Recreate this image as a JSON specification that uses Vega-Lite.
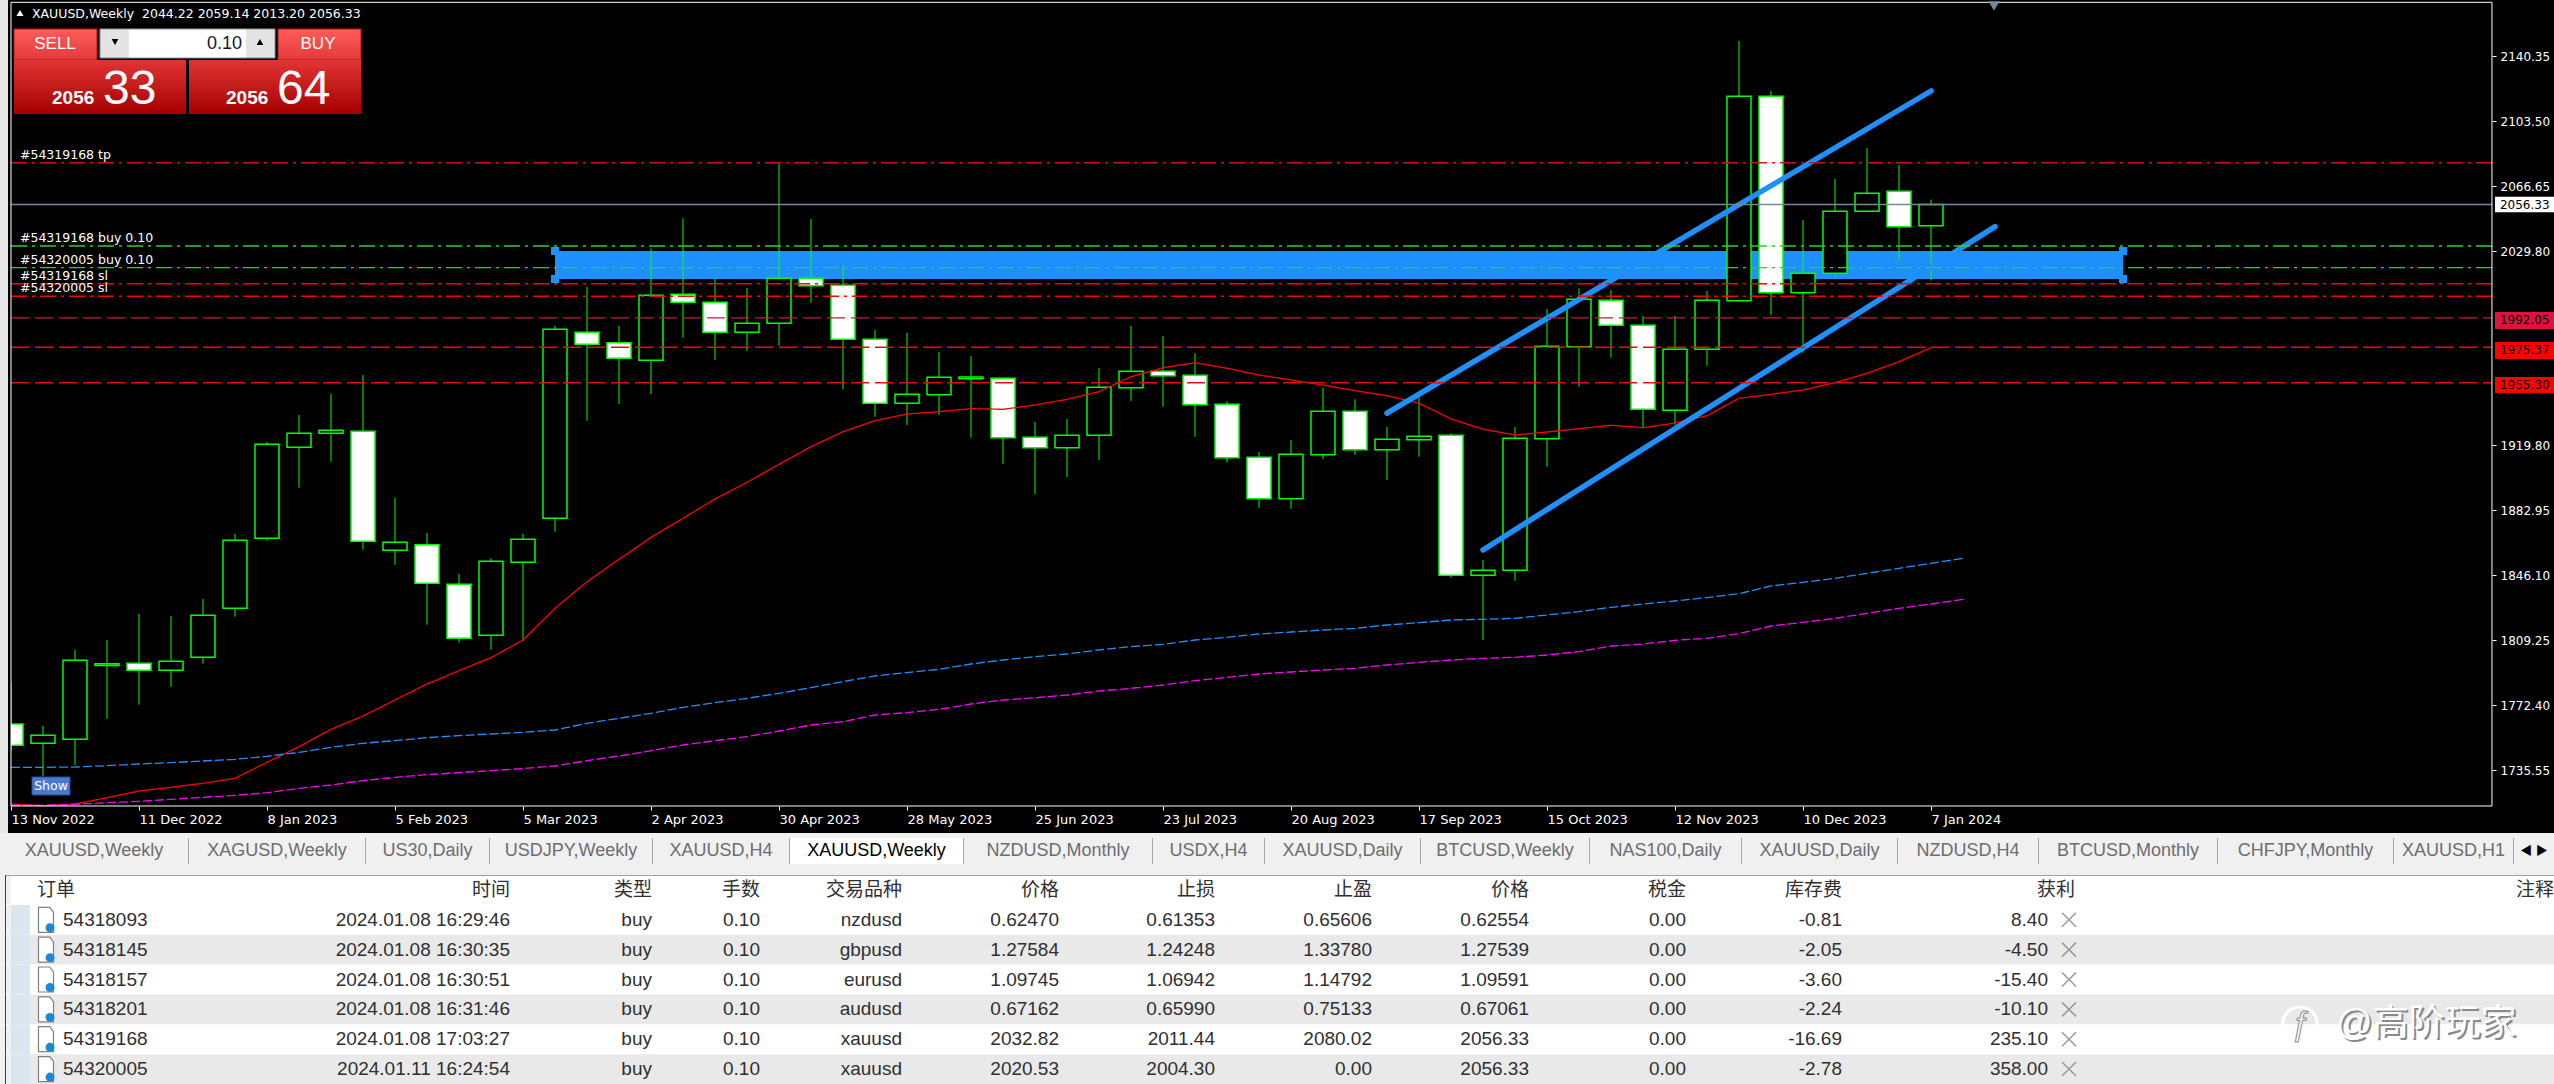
{
"$schema":"https://vega.github.io/schema/vega-lite/v6.json",
"padding":{"left":0,"right":0,"top":0,"bottom":0},"spacing":0,"background":"#a8a8a8",
"config":{"padding":{"left":0,"right":0,"top":0,"bottom":0},"view":{"stroke":null},"legend":{"disable":true},"axis":{"title":null,"grid":false},"text":{"font":"Liberation Sans, Noto Sans CJK SC"}},
"datasets":{
"candles":[
{"date":"2022-11-13","week":0,"open":1761.81,"high":1785.79,"low":1746.68,"close":1749.74,"dir":"down"},
{"date":"2022-11-20","week":1,"open":1750.85,"high":1760.68,"low":1732.33,"close":1755.39,"dir":"up"},
{"date":"2022-11-27","week":2,"open":1753.12,"high":1803.77,"low":1738.57,"close":1797.91,"dir":"up"},
{"date":"2022-12-04","week":3,"open":1795.0,"high":1809.43,"low":1764.84,"close":1796.0,"dir":"up"},
{"date":"2022-12-11","week":4,"open":1796.21,"high":1824.18,"low":1772.77,"close":1792.24,"dir":"down"},
{"date":"2022-12-18","week":5,"open":1792.24,"high":1823.04,"low":1782.98,"close":1797.34,"dir":"up"},
{"date":"2022-12-25","week":6,"open":1799.61,"high":1832.68,"low":1796.01,"close":1823.42,"dir":"up"},
{"date":"2023-01-01","week":7,"open":1827.39,"high":1869.53,"low":1822.66,"close":1865.94,"dir":"up"},
{"date":"2023-01-08","week":8,"open":1867.08,"high":1921.69,"low":1865.75,"close":1920.36,"dir":"up"},
{"date":"2023-01-15","week":9,"open":1918.66,"high":1936.99,"low":1895.8,"close":1926.6,"dir":"up"},
{"date":"2023-01-22","week":10,"open":1926.6,"high":1948.9,"low":1910.54,"close":1928.3,"dir":"up"},
{"date":"2023-01-29","week":11,"open":1927.73,"high":1959.67,"low":1860.64,"close":1865.37,"dir":"down"},
{"date":"2023-02-05","week":12,"open":1860.28,"high":1889.94,"low":1852.14,"close":1864.8,"dir":"up"},
{"date":"2023-02-12","week":13,"open":1863.48,"high":1870.1,"low":1818.13,"close":1841.56,"dir":"down"},
{"date":"2023-02-19","week":14,"open":1840.99,"high":1846.85,"low":1807.92,"close":1810.38,"dir":"down"},
{"date":"2023-02-26","week":15,"open":1812.08,"high":1855.73,"low":1803.95,"close":1854.03,"dir":"up"},
{"date":"2023-03-05","week":16,"open":1853.47,"high":1869.53,"low":1808.68,"close":1866.51,"dir":"up"},
{"date":"2023-03-12","week":17,"open":1878.43,"high":1987.45,"low":1870.83,"close":1985.58,"dir":"up"},
{"date":"2023-03-19","week":18,"open":1983.88,"high":2009.73,"low":1933.76,"close":1977.08,"dir":"down"},
{"date":"2023-03-26","week":19,"open":1977.98,"high":1987.45,"low":1943.23,"close":1969.14,"dir":"down"},
{"date":"2023-04-02","week":20,"open":1968.0,"high":2031.5,"low":1948.9,"close":2004.86,"dir":"up"},
{"date":"2023-04-09","week":21,"open":2005.42,"high":2048.51,"low":1980.82,"close":2000.89,"dir":"down"},
{"date":"2023-04-16","week":22,"open":2000.89,"high":2014.49,"low":1968.18,"close":1983.88,"dir":"down"},
{"date":"2023-04-23","week":23,"open":1983.88,"high":2008.99,"low":1973.45,"close":1988.98,"dir":"up"},
{"date":"2023-04-30","week":24,"open":1988.98,"high":2079.69,"low":1976.28,"close":2014.49,"dir":"up"},
{"date":"2023-05-07","week":25,"open":2014.49,"high":2048.11,"low":2000.66,"close":2010.3,"dir":"down"},
{"date":"2023-05-14","week":26,"open":2010.52,"high":2022.03,"low":1951.57,"close":1979.91,"dir":"down"},
{"date":"2023-05-21","week":27,"open":1979.91,"high":1985.18,"low":1936.03,"close":1943.63,"dir":"down"},
{"date":"2023-05-28","week":28,"open":1943.63,"high":1983.65,"low":1931.32,"close":1948.73,"dir":"up"},
{"date":"2023-06-04","week":29,"open":1948.5,"high":1972.71,"low":1936.99,"close":1958.37,"dir":"up"},
{"date":"2023-06-11","week":30,"open":1957.57,"high":1970.44,"low":1924.12,"close":1958.54,"dir":"up"},
{"date":"2023-06-18","week":31,"open":1957.8,"high":1958.54,"low":1909.38,"close":1924.12,"dir":"down"},
{"date":"2023-06-25","week":32,"open":1924.35,"high":1933.03,"low":1892.21,"close":1918.45,"dir":"down"},
{"date":"2023-07-02","week":33,"open":1918.45,"high":1934.73,"low":1901.84,"close":1925.48,"dir":"up"},
{"date":"2023-07-09","week":34,"open":1925.48,"high":1963.47,"low":1911.48,"close":1952.7,"dir":"up"},
{"date":"2023-07-16","week":35,"open":1952.47,"high":1987.45,"low":1944.93,"close":1961.77,"dir":"up"},
{"date":"2023-07-23","week":36,"open":1961.77,"high":1981.78,"low":1941.7,"close":1959.28,"dir":"down"},
{"date":"2023-07-30","week":37,"open":1959.5,"high":1971.97,"low":1924.69,"close":1942.83,"dir":"down"},
{"date":"2023-08-06","week":38,"open":1943.06,"high":1944.76,"low":1909.95,"close":1912.79,"dir":"down"},
{"date":"2023-08-13","week":39,"open":1913.01,"high":1916.02,"low":1884.44,"close":1889.54,"dir":"down"},
{"date":"2023-08-20","week":40,"open":1889.54,"high":1922.82,"low":1883.87,"close":1914.71,"dir":"up"},
{"date":"2023-08-27","week":41,"open":1914.49,"high":1952.3,"low":1912.05,"close":1939.09,"dir":"up"},
{"date":"2023-09-03","week":42,"open":1939.09,"high":1945.89,"low":1914.32,"close":1917.32,"dir":"down"},
{"date":"2023-09-10","week":43,"open":1917.32,"high":1930.19,"low":1900.14,"close":1923.22,"dir":"up"},
{"date":"2023-09-17","week":44,"open":1922.99,"high":1947.2,"low":1913.35,"close":1924.92,"dir":"up"},
{"date":"2023-09-24","week":45,"open":1925.48,"high":1926.62,"low":1844.75,"close":1846.11,"dir":"down"},
{"date":"2023-10-01","week":46,"open":1846.11,"high":1854.79,"low":1809.43,"close":1848.95,"dir":"up"},
{"date":"2023-10-08","week":47,"open":1848.95,"high":1930.19,"low":1843.05,"close":1923.78,"dir":"up"},
{"date":"2023-10-15","week":48,"open":1923.56,"high":1997.09,"low":1907.68,"close":1975.94,"dir":"up"},
{"date":"2023-10-22","week":49,"open":1975.72,"high":2008.82,"low":1953.04,"close":2002.59,"dir":"up"},
{"date":"2023-10-29","week":50,"open":2002.02,"high":2007.86,"low":1969.48,"close":1987.85,"dir":"down"},
{"date":"2023-11-05","week":51,"open":1987.85,"high":1993.12,"low":1929.45,"close":1940.23,"dir":"down"},
{"date":"2023-11-12","week":52,"open":1939.66,"high":1993.12,"low":1931.32,"close":1974.24,"dir":"up"},
{"date":"2023-11-19","week":53,"open":1974.24,"high":2007.29,"low":1964.94,"close":2002.02,"dir":"up"},
{"date":"2023-11-26","week":54,"open":2001.79,"high":2149.03,"low":2001.23,"close":2117.67,"dir":"up"},
{"date":"2023-12-03","week":55,"open":2117.67,"high":2120.68,"low":1993.69,"close":2006.33,"dir":"down"},
{"date":"2023-12-10","week":56,"open":2006.33,"high":2047.55,"low":1972.31,"close":2017.33,"dir":"up"},
{"date":"2023-12-17","week":57,"open":2017.33,"high":2070.79,"low":2015.4,"close":2052.48,"dir":"up"},
{"date":"2023-12-24","week":58,"open":2052.48,"high":2088.36,"low":2052.48,"close":2062.68,"dir":"up"},
{"date":"2023-12-31","week":59,"open":2063.82,"high":2078.73,"low":2023.9,"close":2043.75,"dir":"down"},
{"date":"2024-01-07","week":60,"open":2044.22,"high":2059.14,"low":2013.2,"close":2056.33,"dir":"up"}
],
"ma":[
{"s":"red","week":0,"price":1716.46},{"s":"red","week":1,"price":1715.49},{"s":"red","week":2,"price":1716.46},{"s":"red","week":3,"price":1720.03},{"s":"red","week":4,"price":1723.83},{"s":"red","week":5,"price":1725.93},{"s":"red","week":6,"price":1728.19},{"s":"red","week":7,"price":1731.03},{"s":"red","week":8,"price":1740.08},{"s":"red","week":9,"price":1748.96},{"s":"red","week":10,"price":1758.79},{"s":"red","week":11,"price":1766.35},{"s":"red","week":12,"price":1775.42},{"s":"red","week":13,"price":1784.49},{"s":"red","week":14,"price":1792.05},{"s":"red","week":15,"price":1799.42},{"s":"red","week":16,"price":1809.43},{"s":"red","week":17,"price":1827.39},{"s":"red","week":18,"price":1842.5},{"s":"red","week":19,"price":1855.17},{"s":"red","week":20,"price":1867.64},{"s":"red","week":21,"price":1878.41},{"s":"red","week":22,"price":1889.37},{"s":"red","week":23,"price":1898.82},{"s":"red","week":24,"price":1909.02},{"s":"red","week":25,"price":1919.04},{"s":"red","week":26,"price":1927.54},{"s":"red","week":27,"price":1933.78},{"s":"red","week":28,"price":1937.56},{"s":"red","week":29,"price":1938.88},{"s":"red","week":30,"price":1940.58},{"s":"red","week":31,"price":1940.21},{"s":"red","week":32,"price":1942.66},{"s":"red","week":33,"price":1945.89},{"s":"red","week":34,"price":1950.2},{"s":"red","week":35,"price":1958.71},{"s":"red","week":36,"price":1963.81},{"s":"red","week":37,"price":1966.64},{"s":"red","week":38,"price":1963.47},{"s":"red","week":39,"price":1959.67},{"s":"red","week":40,"price":1956.84},{"s":"red","week":41,"price":1954.0},{"s":"red","week":42,"price":1950.77},{"s":"red","week":43,"price":1947.94},{"s":"red","week":44,"price":1943.63},{"s":"red","week":45,"price":1934.73},{"s":"red","week":46,"price":1928.89},{"s":"red","week":47,"price":1925.66},{"s":"red","week":48,"price":1927.36},{"s":"red","week":49,"price":1929.23},{"s":"red","week":50,"price":1931.16},{"s":"red","week":51,"price":1929.79},{"s":"red","week":52,"price":1932.46},{"s":"red","week":53,"price":1936.6},{"s":"red","week":54,"price":1946.46},{"s":"red","week":55,"price":1948.73},{"s":"red","week":56,"price":1951.17},{"s":"red","week":57,"price":1955.31},{"s":"red","week":58,"price":1960.64},{"s":"red","week":59,"price":1967.21},{"s":"red","week":60,"price":1975.15},
{"s":"blue","week":0,"price":1737.24},{"s":"blue","week":1,"price":1737.24},{"s":"blue","week":2,"price":1737.43},{"s":"blue","week":3,"price":1738.19},{"s":"blue","week":4,"price":1739.13},{"s":"blue","week":5,"price":1739.89},{"s":"blue","week":6,"price":1740.84},{"s":"blue","week":7,"price":1741.78},{"s":"blue","week":8,"price":1743.48},{"s":"blue","week":9,"price":1745.75},{"s":"blue","week":10,"price":1748.59},{"s":"blue","week":11,"price":1750.85},{"s":"blue","week":12,"price":1752.36},{"s":"blue","week":13,"price":1754.06},{"s":"blue","week":14,"price":1755.2},{"s":"blue","week":15,"price":1756.14},{"s":"blue","week":16,"price":1757.08},{"s":"blue","week":17,"price":1758.41},{"s":"blue","week":18,"price":1762.19},{"s":"blue","week":19,"price":1765.03},{"s":"blue","week":20,"price":1767.86},{"s":"blue","week":21,"price":1771.26},{"s":"blue","week":22,"price":1773.91},{"s":"blue","week":23,"price":1776.36},{"s":"blue","week":24,"price":1779.2},{"s":"blue","week":25,"price":1782.41},{"s":"blue","week":26,"price":1785.82},{"s":"blue","week":27,"price":1789.03},{"s":"blue","week":28,"price":1790.92},{"s":"blue","week":29,"price":1792.81},{"s":"blue","week":30,"price":1795.83},{"s":"blue","week":31,"price":1798.1},{"s":"blue","week":32,"price":1799.99},{"s":"blue","week":33,"price":1801.5},{"s":"blue","week":34,"price":1803.77},{"s":"blue","week":35,"price":1805.66},{"s":"blue","week":36,"price":1806.98},{"s":"blue","week":37,"price":1809.43},{"s":"blue","week":38,"price":1810.95},{"s":"blue","week":39,"price":1812.84},{"s":"blue","week":40,"price":1813.97},{"s":"blue","week":41,"price":1815.1},{"s":"blue","week":42,"price":1816.05},{"s":"blue","week":43,"price":1817.94},{"s":"blue","week":44,"price":1819.26},{"s":"blue","week":45,"price":1820.77},{"s":"blue","week":46,"price":1821.15},{"s":"blue","week":47,"price":1821.72},{"s":"blue","week":48,"price":1823.61},{"s":"blue","week":49,"price":1825.5},{"s":"blue","week":50,"price":1827.96},{"s":"blue","week":51,"price":1829.85},{"s":"blue","week":52,"price":1831.55},{"s":"blue","week":53,"price":1833.44},{"s":"blue","week":54,"price":1835.7},{"s":"blue","week":55,"price":1840.05},{"s":"blue","week":56,"price":1842.13},{"s":"blue","week":57,"price":1844.4},{"s":"blue","week":58,"price":1847.23},{"s":"blue","week":59,"price":1850.07},{"s":"blue","week":60,"price":1852.9},{"s":"blue","week":61,"price":1855.74},
{"s":"magenta","week":0,"price":1715.7},{"s":"magenta","week":1,"price":1715.7},{"s":"magenta","week":2,"price":1716.27},{"s":"magenta","week":3,"price":1717.21},{"s":"magenta","week":4,"price":1717.97},{"s":"magenta","week":5,"price":1719.1},{"s":"magenta","week":6,"price":1720.24},{"s":"magenta","week":7,"price":1721.37},{"s":"magenta","week":8,"price":1722.88},{"s":"magenta","week":9,"price":1725.34},{"s":"magenta","week":10,"price":1727.23},{"s":"magenta","week":11,"price":1729.69},{"s":"magenta","week":12,"price":1731.58},{"s":"magenta","week":13,"price":1733.09},{"s":"magenta","week":14,"price":1734.22},{"s":"magenta","week":15,"price":1735.36},{"s":"magenta","week":16,"price":1736.49},{"s":"magenta","week":17,"price":1738.0},{"s":"magenta","week":18,"price":1741.02},{"s":"magenta","week":19,"price":1743.67},{"s":"magenta","week":20,"price":1746.69},{"s":"magenta","week":21,"price":1749.9},{"s":"magenta","week":22,"price":1752.36},{"s":"magenta","week":23,"price":1754.63},{"s":"magenta","week":24,"price":1757.84},{"s":"magenta","week":25,"price":1761.24},{"s":"magenta","week":26,"price":1763.13},{"s":"magenta","week":27,"price":1766.91},{"s":"magenta","week":28,"price":1768.24},{"s":"magenta","week":29,"price":1770.13},{"s":"magenta","week":30,"price":1773.15},{"s":"magenta","week":31,"price":1775.42},{"s":"magenta","week":32,"price":1776.74},{"s":"magenta","week":33,"price":1778.25},{"s":"magenta","week":34,"price":1780.52},{"s":"magenta","week":35,"price":1782.03},{"s":"magenta","week":36,"price":1783.92},{"s":"magenta","week":37,"price":1786.38},{"s":"magenta","week":38,"price":1788.27},{"s":"magenta","week":39,"price":1790.16},{"s":"magenta","week":40,"price":1791.29},{"s":"magenta","week":41,"price":1792.43},{"s":"magenta","week":42,"price":1793.37},{"s":"magenta","week":43,"price":1795.26},{"s":"magenta","week":44,"price":1796.77},{"s":"magenta","week":45,"price":1798.1},{"s":"magenta","week":46,"price":1799.04},{"s":"magenta","week":47,"price":1799.61},{"s":"magenta","week":48,"price":1800.93},{"s":"magenta","week":49,"price":1802.82},{"s":"magenta","week":50,"price":1806.03},{"s":"magenta","week":51,"price":1807.17},{"s":"magenta","week":52,"price":1809.25},{"s":"magenta","week":53,"price":1810.38},{"s":"magenta","week":54,"price":1813.03},{"s":"magenta","week":55,"price":1817.37},{"s":"magenta","week":56,"price":1819.45},{"s":"magenta","week":57,"price":1821.72},{"s":"magenta","week":58,"price":1824.55},{"s":"magenta","week":59,"price":1827.39},{"s":"magenta","week":60,"price":1829.85},{"s":"magenta","week":61,"price":1832.49}
],
"levels":[
{"name":"54319168 tp","price":2080.02,"kind":"tp","week":0,"week2":77.53},
{"name":"54319168 buy","price":2032.82,"kind":"buy","week":0,"week2":77.53},
{"name":"54320005 buy","price":2020.53,"kind":"buy","week":0,"week2":77.53},
{"name":"54319168 sl","price":2011.44,"kind":"sl","week":0,"week2":77.53},
{"name":"54320005 sl","price":2004.3,"kind":"sl","week":0,"week2":77.53},
{"name":"1992.05","price":1992.05,"kind":"a","week":0,"week2":77.53},
{"name":"1975.37","price":1975.37,"kind":"b","week":0,"week2":77.53},
{"name":"1955.30","price":1955.3,"kind":"c","week":0,"week2":77.53},
{"name":"bid","price":2056.33,"kind":"bid","week":0,"week2":77.53}
],
"orders":[
{"order":"订单","time":"时间","type":"类型","lots":"手数","symbol":"交易品种","price":"价格","sl":"止损","tp":"止盈","current":"价格","tax":"税金","swap":"库存费","profit":"获利"},
{"order":"54318093","time":"2024.01.08 16:29:46","type":"buy","lots":"0.10","symbol":"nzdusd","price":"0.62470","sl":"0.61353","tp":"0.65606","current":"0.62554","tax":"0.00","swap":"-0.81","profit":"8.40"},
{"order":"54318145","time":"2024.01.08 16:30:35","type":"buy","lots":"0.10","symbol":"gbpusd","price":"1.27584","sl":"1.24248","tp":"1.33780","current":"1.27539","tax":"0.00","swap":"-2.05","profit":"-4.50"},
{"order":"54318157","time":"2024.01.08 16:30:51","type":"buy","lots":"0.10","symbol":"eurusd","price":"1.09745","sl":"1.06942","tp":"1.14792","current":"1.09591","tax":"0.00","swap":"-3.60","profit":"-15.40"},
{"order":"54318201","time":"2024.01.08 16:31:46","type":"buy","lots":"0.10","symbol":"audusd","price":"0.67162","sl":"0.65990","tp":"0.75133","current":"0.67061","tax":"0.00","swap":"-2.24","profit":"-10.10"},
{"order":"54319168","time":"2024.01.08 17:03:27","type":"buy","lots":"0.10","symbol":"xauusd","price":"2032.82","sl":"2011.44","tp":"2080.02","current":"2056.33","tax":"0.00","swap":"-16.69","profit":"235.10"},
{"order":"54320005","time":"2024.01.11 16:24:54","type":"buy","lots":"0.10","symbol":"xauusd","price":"2020.53","sl":"2004.30","tp":"0.00","current":"2056.33","tax":"0.00","swap":"-2.78","profit":"358.00"}
]
},
"vconcat":[
{
"width":2554,"height":833,"view":{"fill":"#000000","stroke":null},
"resolve":{"scale":{"color":"independent","strokeDash":"independent"}},
"encoding":{
"x":{"field":"week","type":"quantitative","scale":{"domain":[-0.34375,79.46875],"nice":false,"zero":false,"padding":0},"axis":{"orient":"bottom","offset":-27,"minExtent":0,"maxExtent":26,"values":[0,4,8,12,16,20,24,28,32,36,40,44,48,52,56,60],"labelExpr":"['13 Nov 2022','11 Dec 2022','8 Jan 2023','5 Feb 2023','5 Mar 2023','2 Apr 2023','30 Apr 2023','28 May 2023','25 Jun 2023','23 Jul 2023','20 Aug 2023','17 Sep 2023','15 Oct 2023','12 Nov 2023','10 Dec 2023','7 Jan 2024'][datum.value/4]","domain":false,"tickColor":"#ffffff","tickSize":4,"labelColor":"#ffffff","labelFont":"DejaVu Sans","labelFontSize":13,"labelAlign":"left","labelPadding":3,"labelOverlap":false,"labelFlush":false,"labelBound":false}},
"y":{"field":"price","type":"quantitative","scale":{"domain":[1700.01,2172.27],"nice":false,"zero":false},"axis":{"orient":"right","offset":-62,"minExtent":0,"maxExtent":60,"values":[2140.35,2103.5,2066.65,2029.8,1919.8,1882.95,1846.1,1809.25,1772.4,1735.55],"format":".2f","domain":false,"tickColor":"#ffffff","tickSize":4,"labelColor":"#ffffff","labelFont":"DejaVu Sans","labelFontSize":12,"labelPadding":4,"labelOverlap":false,"labelBound":false,"labelFlush":false}}
},
"layer":[
{"data":{"values":[{"name":"zone","week":17,"week2":66,"price":2029.97,"price2":2014.1}]},"mark":{"type":"rect","fill":"#1e90ff"},"encoding":{"x2":{"field":"week2"},"y2":{"field":"price2"}}},
{"data":{"values":[{"week":17,"price":2029.97},{"week":17,"price":2014.1},{"week":66,"price":2029.97},{"week":66,"price":2014.1}]},"mark":{"type":"point","shape":"square","filled":true,"color":"#1e90ff","opacity":1,"size":64}},
{"data":{"name":"candles"},"mark":{"type":"rule","color":"#00ff00","strokeWidth":1},"encoding":{"y":{"field":"low","type":"quantitative","scale":{"domain":[1700.01,2172.27],"nice":false,"zero":false},"axis":{"orient":"right","offset":-62,"minExtent":0,"maxExtent":60,"values":[2140.35,2103.5,2066.65,2029.8,1919.8,1882.95,1846.1,1809.25,1772.4,1735.55],"format":".2f","domain":false,"tickColor":"#ffffff","tickSize":4,"labelColor":"#ffffff","labelFont":"DejaVu Sans","labelFontSize":12,"labelPadding":4,"labelOverlap":false,"labelBound":false,"labelFlush":false}},"y2":{"field":"high"}}},
{"data":{"name":"candles"},"mark":{"type":"bar","size":24,"stroke":"#00ff00","strokeWidth":1.5,"clip":true},"encoding":{"y":{"field":"open","type":"quantitative","scale":{"domain":[1700.01,2172.27],"nice":false,"zero":false},"axis":{"orient":"right","offset":-62,"minExtent":0,"maxExtent":60,"values":[2140.35,2103.5,2066.65,2029.8,1919.8,1882.95,1846.1,1809.25,1772.4,1735.55],"format":".2f","domain":false,"tickColor":"#ffffff","tickSize":4,"labelColor":"#ffffff","labelFont":"DejaVu Sans","labelFontSize":12,"labelPadding":4,"labelOverlap":false,"labelBound":false,"labelFlush":false}},"y2":{"field":"close"},"color":{"field":"dir","type":"nominal","scale":{"domain":["up","down"],"range":["#000000","#ffffff"]}}}},
{"data":{"name":"ma"},"mark":{"type":"line","strokeWidth":1.3,"interpolate":"linear"},"encoding":{"color":{"field":"s","type":"nominal","scale":{"domain":["red","blue","magenta"],"range":["#ff0000","#1e90ff","#ff00ff"]}},"strokeDash":{"field":"s","type":"nominal","scale":{"domain":["red","blue","magenta"],"range":[[1,0],[9,3],[9,3]]}}}},
{"data":{"values":[{"line":"upper","week":43,"price":1938.1},{"line":"upper","week":60,"price":2120.68},{"line":"lower","week":46,"price":1860.47},{"line":"lower","week":62,"price":2043.75}]},"mark":{"type":"line","color":"#1e90ff","strokeWidth":5.5,"strokeCap":"round"},"encoding":{"detail":{"field":"line"}}},
{"data":{"name":"levels"},"mark":{"type":"rule","strokeWidth":1.4},"encoding":{"x2":{"field":"week2"},"color":{"field":"kind","type":"nominal","scale":{"domain":["tp","buy","sl","a","b","c","bid"],"range":["#d01414","#32cd32","#ff0000","#dc143c","#ff0000","#e01010","#778899"]}},"strokeDash":{"field":"kind","type":"nominal","scale":{"domain":["tp","buy","sl","a","b","c","bid"],"range":[[16,5,3,5],[16,5,3,5],[16,5,3,5],[18,6],[18,6],[18,6],[1,0]]}}}},
{"data":{"values":[{"part":"gutter","week":-0.34375,"week2":-0.09375,"price":1700.01,"price2":2172.27}]},"mark":{"type":"rect","fill":"#e8e8e8"},"encoding":{"x2":{"field":"week2"},"y2":{"field":"price2"}}},
{"data":{"values":[{"part":"edge","week":-0.09375,"week2":0,"price":1700.01,"price2":2172.27}]},"mark":{"type":"rect","fill":"#000000"},"encoding":{"x2":{"field":"week2"},"y2":{"field":"price2"}}},
{"data":{"values":[{"part":"frame","week":0,"week2":77.53,"price":1715.32,"price2":2170.96}]},"mark":{"type":"rect","fill":"transparent","stroke":"#ffffff","strokeWidth":1},"encoding":{"x2":{"field":"week2"},"y2":{"field":"price2"}}},
{"data":{"values":[{"tag":"2056.33","week":77.625,"week2":79.46875,"price":2060.76,"price2":2051.91},{"tag":"1992.05","week":77.625,"week2":79.46875,"price":1995.39,"price2":1985.75},{"tag":"1975.37","week":77.625,"week2":79.46875,"price":1978.38,"price2":1968.74},{"tag":"1955.30","week":77.625,"week2":79.46875,"price":1958.54,"price2":1949.47}]},"mark":{"type":"rect"},"encoding":{"x2":{"field":"week2"},"y2":{"field":"price2"},"color":{"field":"tag","type":"nominal","scale":{"domain":["2056.33","1992.05","1975.37","1955.30"],"range":["#ffffff","#dc143c","#ff0000","#ff0000"]}}}},
{"data":{"values":[{"label":"2056.33","week":77.78,"price":2056.33},{"label":"1992.05","week":77.78,"price":1990.57},{"label":"1975.37","week":77.78,"price":1973.56},{"label":"1955.30","week":77.78,"price":1953.99}]},"mark":{"type":"text","align":"left","baseline":"middle","font":"DejaVu Sans","fontSize":12,"color":"#000000"},"encoding":{"text":{"field":"label"}}},
{"data":{"values":[{"label":"XAUUSD,Weekly\u00a0\u00a02044.22 2059.14 2013.20 2056.33","week":0.656,"price":2164.33},{"label":"#54319168 tp","week":0.28,"price":2084.4},{"label":"#54319168 buy 0.10","week":0.28,"price":2037.3},{"label":"#54320005 buy 0.10","week":0.28,"price":2024.9},{"label":"#54319168 sl","week":0.28,"price":2015.8},{"label":"#54320005 sl","week":0.28,"price":2009.0}]},"mark":{"type":"text","align":"left","baseline":"middle","font":"DejaVu Sans","fontSize":12.5,"color":"#ffffff"},"encoding":{"text":{"field":"label"}}},
{"data":{"values":[{"week":0.28,"price":2164.9}]},"mark":{"type":"point","shape":"triangle-up","filled":true,"color":"#ffffff","opacity":1,"size":50}},
{"data":{"values":[{"week":61.97,"price":2168.87}]},"mark":{"type":"point","shape":"triangle-down","filled":true,"color":"#778899","opacity":1,"size":120}},
{"data":{"values":[{"part":"show","week":0.656,"week2":1.844,"price":1731.75,"price2":1721.56}]},"mark":{"type":"rect","fill":"#4a7ad0","stroke":"#2a4a90"},"encoding":{"x2":{"field":"week2"},"y2":{"field":"price2"}}},
{"data":{"values":[{"label":"Show","week":1.25,"price":1726.66}]},"mark":{"type":"text","align":"center","baseline":"middle","font":"DejaVu Sans","fontSize":12.5,"color":"#ffffff"},"encoding":{"text":{"field":"label"}}},
{"data":{"values":[{"part":"sell","week":0.09375,"week2":2.6875,"price":2155.83,"price2":2138.25},{"part":"buy","week":8.34375,"week2":10.9375,"price":2155.83,"price2":2138.25}]},"mark":{"type":"rect","stroke":"#c01010","fill":{"gradient":"linear","x1":0,"y1":0,"x2":0,"y2":1,"stops":[{"offset":0,"color":"#ff5c5c"},{"offset":1,"color":"#e23a3a"}]}},"encoding":{"x2":{"field":"week2"},"y2":{"field":"price2"}}},
{"data":{"values":[{"part":"bid","week":0.09375,"week2":5.46875,"price":2138.25,"price2":2107.64},{"part":"ask","week":5.5625,"week2":10.9375,"price":2138.25,"price2":2107.64}]},"mark":{"type":"rect","fill":{"gradient":"linear","x1":0,"y1":0,"x2":0,"y2":1,"stops":[{"offset":0,"color":"#e23535"},{"offset":1,"color":"#a50000"}]}},"encoding":{"x2":{"field":"week2"},"y2":{"field":"price2"}}},
{"data":{"values":[{"part":"spinner","week":2.78125,"week2":8.25,"price":2155.83,"price2":2139.39}]},"mark":{"type":"rect","fill":"#e4e4e4","stroke":"#909090"},"encoding":{"x2":{"field":"week2"},"y2":{"field":"price2"}}},
{"data":{"values":[{"part":"lot","week":3.6875,"week2":7.34375,"price":2155.4,"price2":2139.8}]},"mark":{"type":"rect","fill":"#ffffff"},"encoding":{"x2":{"field":"week2"},"y2":{"field":"price2"}}},
{"data":{"values":[{"week":3.25,"price":2148.46}]},"mark":{"type":"point","shape":"triangle-down","filled":true,"color":"#000000","opacity":1,"size":45}},
{"data":{"values":[{"week":7.78,"price":2148.46}]},"mark":{"type":"point","shape":"triangle-up","filled":true,"color":"#000000","opacity":1,"size":45}},
{"data":{"values":[{"label":"0.10","week":7.21875,"price":2147.32}]},"mark":{"type":"text","align":"right","baseline":"middle","fontSize":18,"color":"#101828"},"encoding":{"text":{"field":"label"}}},
{"data":{"values":[{"label":"SELL","week":1.375,"price":2147.32},{"label":"BUY","week":9.59375,"price":2147.32}]},"mark":{"type":"text","align":"center","baseline":"middle","fontSize":17,"color":"#ffffff"},"encoding":{"text":{"field":"label"}}},
{"data":{"values":[{"label":"2056","week":1.28125,"price":2113.31},{"label":"2056","week":6.71875,"price":2113.31}]},"mark":{"type":"text","align":"left","baseline":"alphabetic","fontSize":19,"fontWeight":"bold","color":"#ffffff"},"encoding":{"text":{"field":"label"}}},
{"data":{"values":[{"label":"33","week":2.875,"price":2113.31},{"label":"64","week":8.3125,"price":2113.31}]},"mark":{"type":"text","align":"left","baseline":"alphabetic","fontSize":48,"color":"#ffffff"},"encoding":{"text":{"field":"label"}}}
]
},
{"width":2554,"height":5,"view":{"fill":"#f0f0f0","stroke":null},"data":{"values":[{"tab":""}]},"mark":{"type":"text","fontSize":1},"encoding":{"text":{"field":"tab"}}},
{"spacing":1,"hconcat":[
{"width":188,"height":26,"view":{"fill":"#f0f0f0","stroke":null},"data":{"values":[{"tab":"XAUUSD,Weekly"}]},"mark":{"type":"text","fontSize":18,"color":"#6d6d6d"},"encoding":{"text":{"field":"tab"}}},
{"width":176,"height":26,"view":{"fill":"#f0f0f0","stroke":null},"data":{"values":[{"tab":"XAGUSD,Weekly"}]},"mark":{"type":"text","fontSize":18,"color":"#6d6d6d"},"encoding":{"text":{"field":"tab"}}},
{"width":123,"height":26,"view":{"fill":"#f0f0f0","stroke":null},"data":{"values":[{"tab":"US30,Daily"}]},"mark":{"type":"text","fontSize":18,"color":"#6d6d6d"},"encoding":{"text":{"field":"tab"}}},
{"width":162,"height":26,"view":{"fill":"#f0f0f0","stroke":null},"data":{"values":[{"tab":"USDJPY,Weekly"}]},"mark":{"type":"text","fontSize":18,"color":"#6d6d6d"},"encoding":{"text":{"field":"tab"}}},
{"width":136,"height":26,"view":{"fill":"#f0f0f0","stroke":null},"data":{"values":[{"tab":"XAUUSD,H4"}]},"mark":{"type":"text","fontSize":18,"color":"#6d6d6d"},"encoding":{"text":{"field":"tab"}}},
{"width":173,"height":26,"view":{"fill":"#ffffff","stroke":null},"data":{"values":[{"tab":"XAUUSD,Weekly"}]},"mark":{"type":"text","fontSize":18,"color":"#000000"},"encoding":{"text":{"field":"tab"}}},
{"width":188,"height":26,"view":{"fill":"#f0f0f0","stroke":null},"data":{"values":[{"tab":"NZDUSD,Monthly"}]},"mark":{"type":"text","fontSize":18,"color":"#6d6d6d"},"encoding":{"text":{"field":"tab"}}},
{"width":111,"height":26,"view":{"fill":"#f0f0f0","stroke":null},"data":{"values":[{"tab":"USDX,H4"}]},"mark":{"type":"text","fontSize":18,"color":"#6d6d6d"},"encoding":{"text":{"field":"tab"}}},
{"width":155,"height":26,"view":{"fill":"#f0f0f0","stroke":null},"data":{"values":[{"tab":"XAUUSD,Daily"}]},"mark":{"type":"text","fontSize":18,"color":"#6d6d6d"},"encoding":{"text":{"field":"tab"}}},
{"width":168,"height":26,"view":{"fill":"#f0f0f0","stroke":null},"data":{"values":[{"tab":"BTCUSD,Weekly"}]},"mark":{"type":"text","fontSize":18,"color":"#6d6d6d"},"encoding":{"text":{"field":"tab"}}},
{"width":151,"height":26,"view":{"fill":"#f0f0f0","stroke":null},"data":{"values":[{"tab":"NAS100,Daily"}]},"mark":{"type":"text","fontSize":18,"color":"#6d6d6d"},"encoding":{"text":{"field":"tab"}}},
{"width":155,"height":26,"view":{"fill":"#f0f0f0","stroke":null},"data":{"values":[{"tab":"XAUUSD,Daily"}]},"mark":{"type":"text","fontSize":18,"color":"#6d6d6d"},"encoding":{"text":{"field":"tab"}}},
{"width":140,"height":26,"view":{"fill":"#f0f0f0","stroke":null},"data":{"values":[{"tab":"NZDUSD,H4"}]},"mark":{"type":"text","fontSize":18,"color":"#6d6d6d"},"encoding":{"text":{"field":"tab"}}},
{"width":178,"height":26,"view":{"fill":"#f0f0f0","stroke":null},"data":{"values":[{"tab":"BTCUSD,Monthly"}]},"mark":{"type":"text","fontSize":18,"color":"#6d6d6d"},"encoding":{"text":{"field":"tab"}}},
{"width":175,"height":26,"view":{"fill":"#f0f0f0","stroke":null},"data":{"values":[{"tab":"CHFJPY,Monthly"}]},"mark":{"type":"text","fontSize":18,"color":"#6d6d6d"},"encoding":{"text":{"field":"tab"}}},
{"width":119,"height":26,"view":{"fill":"#f0f0f0","stroke":null},"data":{"values":[{"tab":"XAUUSD,H1"}]},"mark":{"type":"text","fontSize":18,"color":"#6d6d6d"},"encoding":{"text":{"field":"tab"}}},
{"width":40,"height":26,"view":{"fill":"#f0f0f0","stroke":null},"data":{"values":[{"tab":"◀ ▶"}]},"mark":{"type":"text","fontSize":12,"color":"#000000"},"encoding":{"text":{"field":"tab"}}}
]},
{"width":2554,"height":11,"view":{"fill":"#f0f0f0","stroke":null},"data":{"values":[{"tab":""}]},"mark":{"type":"text","fontSize":1},"encoding":{"text":{"field":"tab"}}},
{
"width":2554,"height":209,"view":{"fill":"#ffffff","stroke":null},
"data":{"name":"orders"},
"encoding":{"y":{"field":"order","type":"nominal","scale":{"domain":["订单","54318093","54318145","54318157","54318201","54319168","54320005"],"paddingInner":0,"paddingOuter":0},"axis":null}},
"layer":[
{"transform":[{"filter":"indexof(['54318145','54318201','54320005'],datum.order)>=0"}],"mark":{"type":"rect","fill":"#e9e9e9"},"encoding":{"x":{"datum":30,"type":"quantitative","scale":{"domain":[0,2554],"nice":false,"zero":false},"axis":null},"x2":{"datum":2554}}},
{"mark":{"type":"rect","fill":"#f0f0f0"},"encoding":{"x":{"datum":0,"type":"quantitative","scale":{"domain":[0,2554],"nice":false,"zero":false},"axis":null},"x2":{"datum":11}}},
{"mark":{"type":"rect","fill":"#404040"},"encoding":{"x":{"datum":5,"type":"quantitative","scale":{"domain":[0,2554],"nice":false,"zero":false},"axis":null},"x2":{"datum":6}}},
{"transform":[{"filter":"datum.order!='订单'"}],"mark":{"type":"rect","fill":"#dbe6f1"},"encoding":{"x":{"datum":11,"type":"quantitative","scale":{"domain":[0,2554],"nice":false,"zero":false},"axis":null},"x2":{"datum":30}}},
{"transform":[{"filter":"datum.order=='订单'"}],"mark":{"type":"rule","color":"#a0a0a0","strokeWidth":2,"clip":true},"encoding":{"x":{"datum":6,"type":"quantitative","scale":{"domain":[0,2554],"nice":false,"zero":false},"axis":null},"x2":{"datum":2554},"y":{"field":"order","type":"nominal","bandPosition":0,"scale":{"domain":["订单","54318093","54318145","54318157","54318201","54319168","54320005"],"paddingInner":0,"paddingOuter":0},"axis":null}}},
{"transform":[{"filter":"datum.order!='订单'"}],"mark":{"type":"point","filled":true,"fill":"#ffffff","stroke":"#808080","strokeWidth":1.2,"opacity":1,"size":2500,"shape":"M-0.3,-0.5L0.15,-0.5L0.3,-0.3L0.3,0.5L-0.3,0.5Z"},"encoding":{"x":{"datum":46,"type":"quantitative","scale":{"domain":[0,2554],"nice":false,"zero":false},"axis":null}}},
{"transform":[{"filter":"datum.order!='订单'"}],"mark":{"type":"point","filled":true,"color":"#1e88d8","opacity":1,"size":80,"shape":"circle","yOffset":8},"encoding":{"x":{"datum":50,"type":"quantitative","scale":{"domain":[0,2554],"nice":false,"zero":false},"axis":null}}},
{"transform":[{"filter":"datum.order=='订单'"}],"mark":{"type":"text","align":"left","fontSize":19,"color":"#303030"},"encoding":{"text":{"field":"order"},"x":{"datum":37,"type":"quantitative","scale":{"domain":[0,2554],"nice":false,"zero":false},"axis":null}}},
{"transform":[{"filter":"datum.order!='订单'"}],"mark":{"type":"text","align":"left","fontSize":19,"color":"#303030"},"encoding":{"text":{"field":"order"},"x":{"datum":63,"type":"quantitative","scale":{"domain":[0,2554],"nice":false,"zero":false},"axis":null}}},
{"mark":{"type":"text","align":"right","fontSize":19,"color":"#303030"},"encoding":{"text":{"field":"time"},"x":{"datum":510,"type":"quantitative","scale":{"domain":[0,2554],"nice":false,"zero":false},"axis":null}}},
{"mark":{"type":"text","align":"right","fontSize":19,"color":"#303030"},"encoding":{"text":{"field":"type"},"x":{"datum":652,"type":"quantitative","scale":{"domain":[0,2554],"nice":false,"zero":false},"axis":null}}},
{"mark":{"type":"text","align":"right","fontSize":19,"color":"#303030"},"encoding":{"text":{"field":"lots"},"x":{"datum":760,"type":"quantitative","scale":{"domain":[0,2554],"nice":false,"zero":false},"axis":null}}},
{"mark":{"type":"text","align":"right","fontSize":19,"color":"#303030"},"encoding":{"text":{"field":"symbol"},"x":{"datum":902,"type":"quantitative","scale":{"domain":[0,2554],"nice":false,"zero":false},"axis":null}}},
{"mark":{"type":"text","align":"right","fontSize":19,"color":"#303030"},"encoding":{"text":{"field":"price"},"x":{"datum":1059,"type":"quantitative","scale":{"domain":[0,2554],"nice":false,"zero":false},"axis":null}}},
{"mark":{"type":"text","align":"right","fontSize":19,"color":"#303030"},"encoding":{"text":{"field":"sl"},"x":{"datum":1215,"type":"quantitative","scale":{"domain":[0,2554],"nice":false,"zero":false},"axis":null}}},
{"mark":{"type":"text","align":"right","fontSize":19,"color":"#303030"},"encoding":{"text":{"field":"tp"},"x":{"datum":1372,"type":"quantitative","scale":{"domain":[0,2554],"nice":false,"zero":false},"axis":null}}},
{"mark":{"type":"text","align":"right","fontSize":19,"color":"#303030"},"encoding":{"text":{"field":"current"},"x":{"datum":1529,"type":"quantitative","scale":{"domain":[0,2554],"nice":false,"zero":false},"axis":null}}},
{"mark":{"type":"text","align":"right","fontSize":19,"color":"#303030"},"encoding":{"text":{"field":"tax"},"x":{"datum":1686,"type":"quantitative","scale":{"domain":[0,2554],"nice":false,"zero":false},"axis":null}}},
{"mark":{"type":"text","align":"right","fontSize":19,"color":"#303030"},"encoding":{"text":{"field":"swap"},"x":{"datum":1842,"type":"quantitative","scale":{"domain":[0,2554],"nice":false,"zero":false},"axis":null}}},
{"transform":[{"filter":"datum.order!='订单'"}],"mark":{"type":"text","align":"right","fontSize":19,"color":"#303030"},"encoding":{"text":{"field":"profit"},"x":{"datum":2048,"type":"quantitative","scale":{"domain":[0,2554],"nice":false,"zero":false},"axis":null}}},
{"transform":[{"filter":"datum.order=='订单'"}],"mark":{"type":"text","align":"right","fontSize":19,"color":"#303030"},"encoding":{"text":{"field":"profit"},"x":{"datum":2075,"type":"quantitative","scale":{"domain":[0,2554],"nice":false,"zero":false},"axis":null}}},
{"transform":[{"filter":"datum.order=='订单'"}],"mark":{"type":"text","align":"right","fontSize":19,"color":"#303030"},"encoding":{"text":{"value":"注释"},"x":{"datum":2554,"type":"quantitative","scale":{"domain":[0,2554],"nice":false,"zero":false},"axis":null}}},
{"transform":[{"filter":"datum.order!='订单'"}],"mark":{"type":"point","filled":false,"stroke":"#9a9a9a","strokeWidth":1.5,"opacity":1,"size":784,"shape":"M-0.5,-0.5L0.5,0.5M-0.5,0.5L0.5,-0.5"},"encoding":{"x":{"datum":2069,"type":"quantitative","scale":{"domain":[0,2554],"nice":false,"zero":false},"axis":null}}},
{"transform":[{"filter":"datum.order=='54319168'"}],"mark":{"type":"text","align":"left","fontSize":36,"color":"#8a8a8a","dx":2,"dy":2},"encoding":{"text":{"value":"@高阶玩家"},"x":{"datum":2336,"type":"quantitative","scale":{"domain":[0,2554],"nice":false,"zero":false},"axis":null},"y":{"field":"order","type":"nominal","bandPosition":0,"scale":{"domain":["订单","54318093","54318145","54318157","54318201","54319168","54320005"],"paddingInner":0,"paddingOuter":0},"axis":null}}},
{"transform":[{"filter":"datum.order=='54319168'"}],"mark":{"type":"text","align":"left","fontSize":36,"color":"#ffffff"},"encoding":{"text":{"value":"@高阶玩家"},"x":{"datum":2336,"type":"quantitative","scale":{"domain":[0,2554],"nice":false,"zero":false},"axis":null},"y":{"field":"order","type":"nominal","bandPosition":0,"scale":{"domain":["订单","54318093","54318145","54318157","54318201","54319168","54320005"],"paddingInner":0,"paddingOuter":0},"axis":null}}},
{"transform":[{"filter":"datum.order=='54319168'"}],"mark":{"type":"point","shape":"circle","filled":false,"stroke":"#ffffff","strokeWidth":3,"opacity":1,"size":1200},"encoding":{"x":{"datum":2300,"type":"quantitative","scale":{"domain":[0,2554],"nice":false,"zero":false},"axis":null},"y":{"field":"order","type":"nominal","bandPosition":0,"scale":{"domain":["订单","54318093","54318145","54318157","54318201","54319168","54320005"],"paddingInner":0,"paddingOuter":0},"axis":null}}},
{"transform":[{"filter":"datum.order=='54319168'"}],"mark":{"type":"text","align":"center","fontSize":34,"fontStyle":"italic","color":"#ffffff","stroke":"#8a8a8a","strokeWidth":1},"encoding":{"text":{"value":"ƒ"},"x":{"datum":2300,"type":"quantitative","scale":{"domain":[0,2554],"nice":false,"zero":false},"axis":null},"y":{"field":"order","type":"nominal","bandPosition":0,"scale":{"domain":["订单","54318093","54318145","54318157","54318201","54319168","54320005"],"paddingInner":0,"paddingOuter":0},"axis":null}}}
]
}
]
}
